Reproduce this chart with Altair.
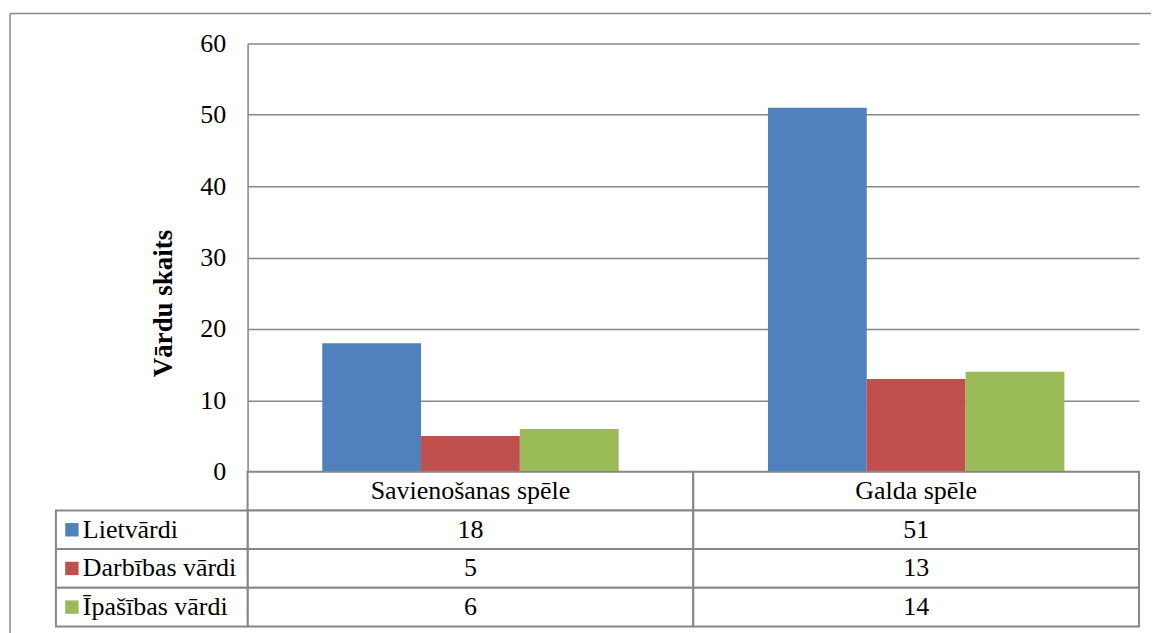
import altair as alt
import pandas as pd

# ---- data ----
categories = ["Savienošanas spēle", "Galda spēle"]
series = ["Lietvārdi", "Darbības vārdi", "Īpašības vārdi"]
lietvardi = [18, 51]
darbibas_vardi = [5, 13]
ipasibas_vardi = [6, 14]
y_ticks = [0, 10, 20, 30, 40, 50, 60]
y_title = "Vārdu skaits"
colors = ["#4F81BD", "#C0504D", "#9BBB59"]

series_values = {
    "Lietvārdi": lietvardi,
    "Darbības vārdi": darbibas_vardi,
    "Īpašības vārdi": ipasibas_vardi,
}

rows = []
for s in series:
    for i, c in enumerate(categories):
        rows.append({"cat": c, "series": s, "value": series_values[s][i]})
df = pd.DataFrame(rows)

HDR = "hdr"
row_domain = [HDR] + series
cells = []
for i, c in enumerate(categories):
    cells.append({"cat": c, "row": HDR, "text": c})
    for s in series:
        cells.append({"cat": c, "row": s, "text": str(series_values[s][i])})
cell_df = pd.DataFrame(cells)
legend_df = pd.DataFrame([{"row": s, "series": s} for s in series])

FONT = "Liberation Serif, Times New Roman, serif"
GRID = "#878787"
W, H, TH = 893, 429, 155
FS = 26

color_scale = alt.Scale(domain=series, range=colors)

bars = alt.Chart(df).mark_bar().encode(
    x=alt.X("cat:N", sort=categories,
            scale=alt.Scale(paddingInner=0.335, paddingOuter=0.1675), axis=None),
    xOffset=alt.XOffset("series:N", sort=series,
                        scale=alt.Scale(paddingInner=0, paddingOuter=0)),
    y=alt.Y("value:Q", scale=alt.Scale(domain=[0, 60], nice=False),
            axis=alt.Axis(values=y_ticks, title=y_title, grid=True,
                          gridColor=GRID, gridWidth=1.5, domain=True,
                          domainColor=GRID, domainWidth=1.5, ticks=False,
                          labelFont=FONT, labelFontSize=FS, labelColor="black",
                          labelPadding=22, titleFont=FONT, titleFontSize=27,
                          titleFontWeight="bold", titleColor="black",
                          titleAngle=270, titleX=-84, titleY=260,
                          titleAlign="center", titleBaseline="middle")),
    color=alt.Color("series:N", scale=color_scale, legend=None),
)

one = pd.DataFrame([{"k": 0}])
top_rule = alt.Chart(one).mark_rule(color="#8a8a8a", strokeWidth=1.5).encode(
    x=alt.value(-238), x2=alt.value(905), y=alt.value(-30))
left_rule = alt.Chart(one).mark_rule(color="#8a8a8a", strokeWidth=1.5).encode(
    x=alt.value(-238), y=alt.value(-30), y2=alt.value(591))

top = alt.layer(bars, top_rule, left_rule).properties(width=W, height=H)

xs = alt.X("cat:N", sort=categories,
           scale=alt.Scale(paddingInner=0, paddingOuter=0), axis=None)
ys = alt.Y("row:N", sort=row_domain,
           scale=alt.Scale(domain=row_domain, paddingInner=0, paddingOuter=0),
           axis=None)

cell_rects = alt.Chart(cell_df).mark_rect(fill="white", stroke=GRID, strokeWidth=2).encode(
    x=xs, y=ys)
cell_text = alt.Chart(cell_df).mark_text(font=FONT, fontSize=FS, color="black").encode(
    x=xs, y=ys, text="text:N")
leg_rects = alt.Chart(legend_df).mark_rect(fill="white", stroke=GRID, strokeWidth=2).encode(
    x=alt.value(-192), x2=alt.value(0), y=ys)
leg_sq = alt.Chart(legend_df).mark_square(size=180, opacity=1).encode(
    x=alt.value(-176), y=ys,
    color=alt.Color("series:N", scale=color_scale, legend=None))
leg_text = alt.Chart(legend_df).mark_text(font=FONT, fontSize=FS, color="black",
                                          align="left").encode(
    x=alt.value(-165), y=ys, text="series:N")

table = alt.layer(cell_rects, cell_text, leg_rects, leg_sq, leg_text).properties(
    width=W, height=TH)

chart = alt.vconcat(top, table, spacing=0, bounds="flush").resolve_scale(
    x="independent", y="independent", color="shared"
).configure_view(strokeWidth=0).properties(
    padding={"left": 1, "top": 4, "right": 0, "bottom": 0},
    background="white",
)

chart.save("out.html", embed_options={"renderer": "svg", "actions": False})
